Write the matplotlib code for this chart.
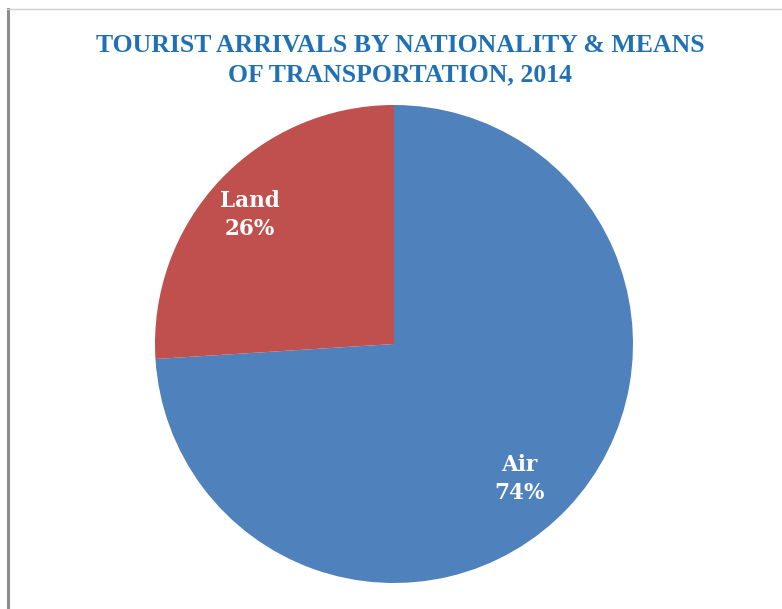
import numpy as np
import matplotlib
matplotlib.use("Agg")
import matplotlib.pyplot as plt
from matplotlib.lines import Line2D

categories = ["Air", "Land"]
shares = [74, 26]
colors = ["#4F81BD", "#C0504D"]
title = "TOURIST ARRIVALS BY NATIONALITY & MEANS\nOF TRANSPORTATION, 2014"

W, H = 782, 609
fig = plt.figure(figsize=(W / 100, H / 100), dpi=100)
fig.patch.set_facecolor("white")

# frame lines around the chart area
fig.add_artist(Line2D([8 / W, 8 / W], [0, 1 - 9 / H], transform=fig.transFigure,
                      color="#8c8c8c", lw=2.2))
fig.add_artist(Line2D([7 / W, 1], [1 - 9 / H, 1 - 9 / H], transform=fig.transFigure,
                      color="#d0d0d0", lw=1.0))

cx, cy, r = 394, 344, 239
ax = fig.add_axes([(cx - r) / W, (H - cy - r) / H, 2 * r / W, 2 * r / H])

labels = [f"{c}\n{v}%" for c, v in zip(categories, shares)]
wedges, texts = ax.pie(shares, colors=colors, startangle=90, counterclock=False,
                       labels=labels, labeldistance=0.79,
                       wedgeprops=dict(linewidth=0),
                       textprops=dict(color="white", fontsize=15.5, fontweight="bold",
                                      family="DejaVu Serif", ha="center", va="center",
                                      linespacing=1.35))

# place each label near the middle of its wedge, slightly rotated clockwise
label_dist = [0.77, 0.81]
angle_shift = [-4.0, 1.5]
for w, t, d, s in zip(wedges, texts, label_dist, angle_shift):
    mid = np.deg2rad((w.theta1 + w.theta2) / 2 + s)
    t.set_position((d * np.cos(mid), d * np.sin(mid)))
    t.set_horizontalalignment("center")

ax.set_xlim(-1, 1)
ax.set_ylim(-1, 1)
ax.set_aspect("equal")

fig.text(400 / W, 1 - 60 / H, title, ha="center", va="center", fontsize=18.5,
         fontweight="bold", family="Liberation Serif", color="#1F70B5",
         linespacing=1.35)

fig.savefig("out.png", dpi=100)
